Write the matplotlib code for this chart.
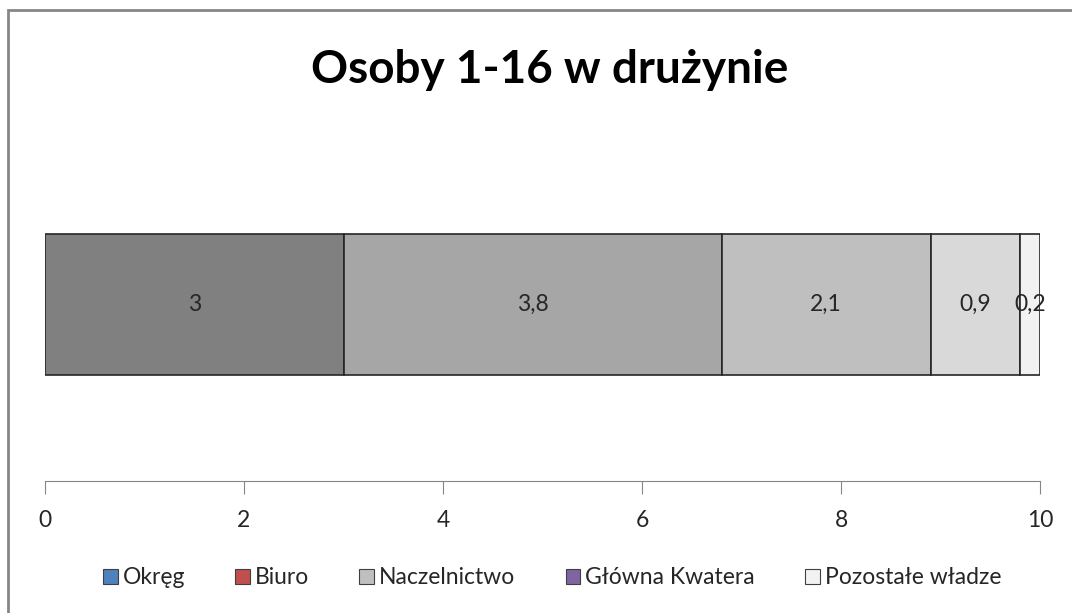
import matplotlib.pyplot as plt
from matplotlib.patches import Rectangle, Patch

plt.rcParams['font.family'] = ['Lato', 'DejaVu Sans']

# data
segment_values = [3, 3.8, 2.1, 0.9, 0.2]
segment_labels = ['3', '3,8', '2,1', '0,9', '0,2']
segment_colors = ['#808080', '#a6a6a6', '#bfbfbf', '#d9d9d9', '#f2f2f2']
legend_names = ['Okręg', 'Biuro', 'Naczelnictwo', 'Główna Kwatera', 'Pozostałe władze']
legend_colors = ['#4f81bd', '#c0504d', '#bfbfbf', '#8064a2', '#f2f2f2']
xticks = [0, 2, 4, 6, 8, 10]

fig = plt.figure(figsize=(10.72, 6.13), dpi=100)
ax = fig.add_axes([45 / 1072, 132 / 613, 995 / 1072, 353 / 613])

left = 0
for val, lab, col in zip(segment_values, segment_labels, segment_colors):
    ax.barh(0, val, left=left, height=0.8, color=col, edgecolor='#262626', linewidth=1.2)
    ax.text(left + val / 2, 0, lab, ha='center', va='center', fontsize=16.5, color='#262626')
    left += val

ax.set_xlim(0, 10)
ax.set_ylim(-1, 1)
ax.set_xticks(xticks)
ax.set_xticklabels([str(t) for t in xticks], fontsize=16.5, color='#262626')
ax.set_yticks([])
for s in ['top', 'right', 'left']:
    ax.spines[s].set_visible(False)
ax.spines['bottom'].set_color('#868686')
ax.tick_params(axis='x', length=9, color='#868686', pad=12)

fig.text(550 / 1072, 1 - 70 / 613, 'Osoby 1-16 w drużynie', ha='center', va='center',
         fontsize=33, fontweight='bold', color='black')

handles = [Patch(facecolor=c, edgecolor='#404040', linewidth=0.8) for c in legend_colors]
fig.legend(handles, legend_names, loc='center', bbox_to_anchor=(552 / 1072, 1 - 578 / 613),
           ncol=5, frameon=False, fontsize=16.5, handlelength=0.65, handleheight=0.65,
           handletextpad=0.2, columnspacing=2.2, labelcolor='#262626')

# outer chart frame
fig.patches.append(Rectangle((8 / 1072, -0.1), 1.2, 1.1 - 10 / 613, transform=fig.transFigure,
                             fill=False, edgecolor='#868686', linewidth=2))

fig.savefig('out.png', dpi=100)
